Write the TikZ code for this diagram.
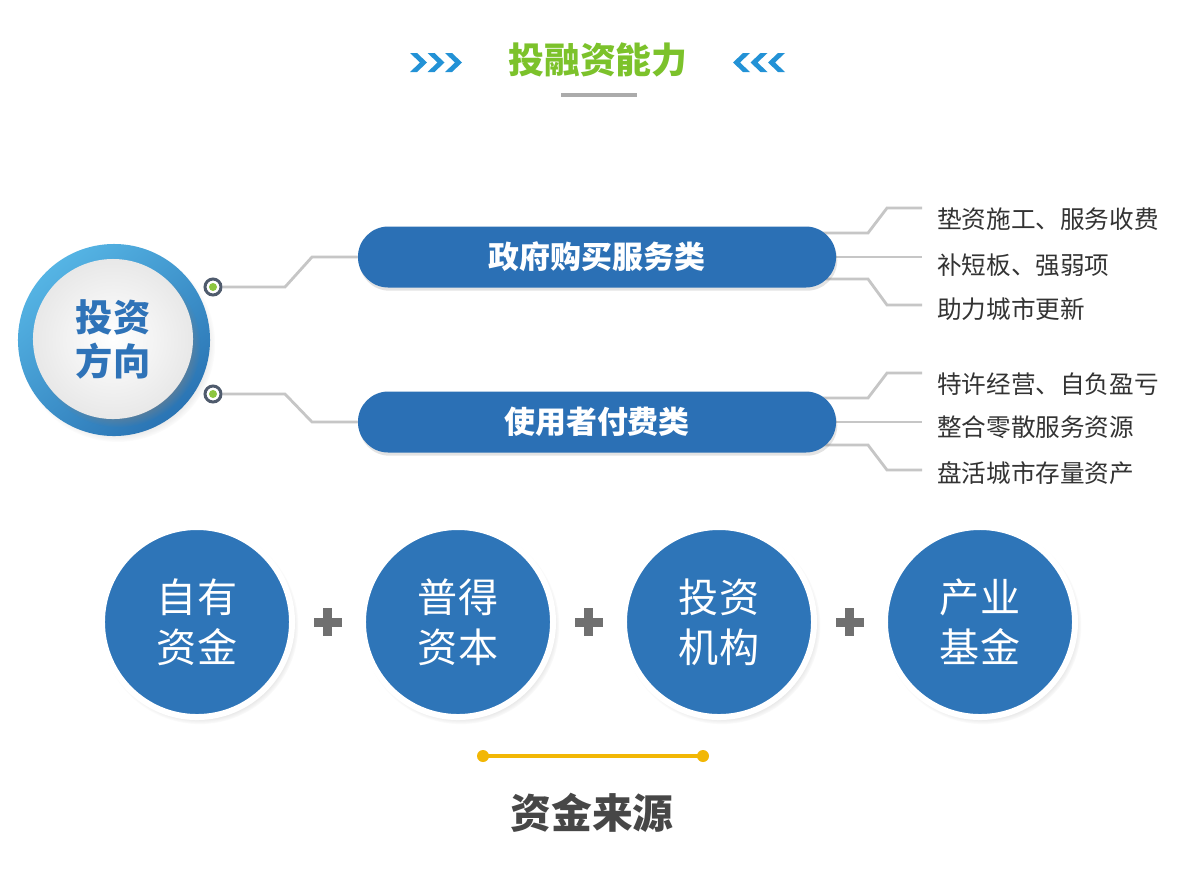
\documentclass[tikz,border=0pt]{standalone}
\usepackage{fontspec}
\newfontfamily\cjk{Noto Sans CJK SC}
\usetikzlibrary{shadows,calc,positioning,backgrounds}
\definecolor{pillblue}{HTML}{2B70B5}
\definecolor{fundblue}{HTML}{2E75B8}
\definecolor{ringlight}{HTML}{55B4E4}
\definecolor{ringdark}{HTML}{2A74B4}
\definecolor{chevblue}{HTML}{2392D6}
\definecolor{titlegreen}{HTML}{7CC22B}
\definecolor{linegray}{HTML}{C6C6C6}
\definecolor{textgray}{HTML}{333333}
\definecolor{bargray}{HTML}{ABABAB}
\definecolor{plusgray}{HTML}{707070}
\definecolor{baryellow}{HTML}{F2B705}
\definecolor{dotgreen}{HTML}{8DC63F}
\definecolor{dotring}{HTML}{4F5B6D}
\definecolor{dirblue}{HTML}{2F73B8}
\tikzset{
  pill/.style={fill=pillblue, rounded corners=0.76cm, minimum width=11.95cm, minimum height=1.525cm,
    text=white, font=\cjk\bfseries\fontsize{22}{26}\selectfont,
    drop shadow={opacity=0.22, shadow xshift=0.03cm, shadow yshift=-0.08cm}},
  fund/.style={circle, fill=fundblue, draw=white, line width=0.15cm, minimum size=4.75cm, inner sep=0pt,
    text=white, align=center, font=\cjk\fontsize{28.5}{35.5}\selectfont,
    circular drop shadow={shadow xshift=0.06cm, shadow yshift=-0.08cm, shadow scale=1.04, opacity=0.45}},
  item/.style={anchor=west, inner sep=0pt, text=textgray, font=\cjk\fontsize{17.5}{20}\selectfont},
  branch/.style={draw=linegray, line width=0.07cm},
  dot/.style={circle, fill=white, draw=dotring, line width=0.075cm, minimum size=0.4cm, inner sep=0pt}
}
\begin{document}
\begin{tikzpicture}[x=0.025cm,y=-0.025cm]
    \begin{scope}[on background layer]
        \fill[white] (0,0) rectangle (1200,871);
    \end{scope}

    % Title
    \node[font=\cjk\bfseries\fontsize{25.5}{30}\selectfont, text=titlegreen] (title) at (598,60) {投融资能力};
    \foreach \x in {410,427.5,445} \fill[chevblue] (\x,53) -- ++(7,0) -- ++(10,9.5) -- ++(-10,9.5) -- ++(-7,0) -- ++(10,-9.5) -- cycle;
    \foreach \x in {785,767.5,750} \fill[chevblue] (\x,53) -- ++(-7,0) -- ++(-10,9.5) -- ++(10,9.5) -- ++(7,0) -- ++(-10,-9.5) -- cycle;
    \fill[bargray] (561,93) rectangle (637,97);

    % Investment direction
    \node[circle, minimum size=4.8cm, inner sep=0pt, shading=axis, top color=ringlight, bottom color=ringdark, shading angle=40,
          circular drop shadow={shadow xshift=0.08cm, shadow yshift=-0.1cm, shadow scale=1.02, opacity=0.3}] (dir) at (114,340) {};
    \node[circle, minimum size=4cm, inner sep=0pt, inner color=white, outer color=gray!18, text=dirblue, align=center,
          font=\cjk\bfseries\fontsize{26.5}{31.3}\selectfont,
          circular drop shadow={shadow xshift=0.12cm, shadow yshift=-0.14cm, shadow scale=1.03, opacity=0.55}] (dirtxt) at (113,339) {投资\\方向};

    \node[dot] (d1) at (213,287) {}; \fill[dotgreen] (d1) circle (4);
    \node[dot] (d2) at (213,394) {}; \fill[dotgreen] (d2) circle (4);

    % Categories
    \node[pill] (gov) at (597,257) {政府购买服务类};
    \node[pill] (use) at (597,422) {使用者付费类};

    \node[item] (g1) at (937,219) {垫资施工、服务收费};
    \node[item] (g2) at (937,265) {补短板、强弱项};
    \node[item] (g3) at (937,309) {助力城市更新};
    \node[item] (u1) at (937,384) {特许经营、自负盈亏};
    \node[item] (u2) at (937,427) {整合零散服务资源};
    \node[item] (u3) at (937,473) {盘活城市存量资产};

    \begin{scope}[on background layer]
        \draw[branch] (d1) -- ++(72,0) -- ++(27,-30) -- (gov.west);
        \draw[branch] (d2) -- ++(72,0) -- ++(27,28) -- (use.west);
        % right branches
        \draw[branch] ($(gov)+(220,-24)$) -- ++(51,0) -- ++(19,-25) -- ($(g1.west)+(-15,-11)$);
        \draw[branch] ($(gov)+(220,0)$) -- ($(g2.west)+(-15,-8)$);
        \draw[branch] ($(gov)+(220,22)$) -- ++(51,0) -- ++(19,26) -- ($(g3.west)+(-15,-4)$);
        \draw[branch] ($(use)+(220,-24)$) -- ++(51,0) -- ++(19,-25) -- ($(u1.west)+(-15,-11)$);
        \draw[branch] ($(use)+(220,0)$) -- ($(u2.west)+(-15,-5)$);
        \draw[branch] ($(use)+(220,23)$) -- ++(51,0) -- ++(19,25) -- ($(u3.west)+(-15,-3)$);
    \end{scope}

    % Sources of funds
    \node[fund] (f1) at (197,622) {自有\\资金};
    \node[fund] (f2) at (458,622) {普得\\资本};
    \node[fund] (f3) at (719,622) {投资\\机构};
    \node[fund] (f4) at (980,622) {产业\\基金};
    \foreach \a/\b in {f1/f2, f2/f3, f3/f4} {
        \coordinate (p) at ($(\a)!0.5!(\b)$);
        \fill[plusgray] ($(p)+(-14,-4.5)$) rectangle ($(p)+(14,4.5)$);
        \fill[plusgray] ($(p)+(-4.5,-14)$) rectangle ($(p)+(4.5,14)$);
    }

    \coordinate (yl) at (483,756); \coordinate (yr) at (703,756);
    \draw[baryellow, line width=0.1cm] (yl) -- (yr);
    \fill[baryellow] (yl) circle (6); \fill[baryellow] (yr) circle (6);
    \node[font=\cjk\bfseries\fontsize{29}{34}\selectfont, text=textgray!90!white] (src) at (592,813) {资金来源};
\end{tikzpicture}
\end{document}
